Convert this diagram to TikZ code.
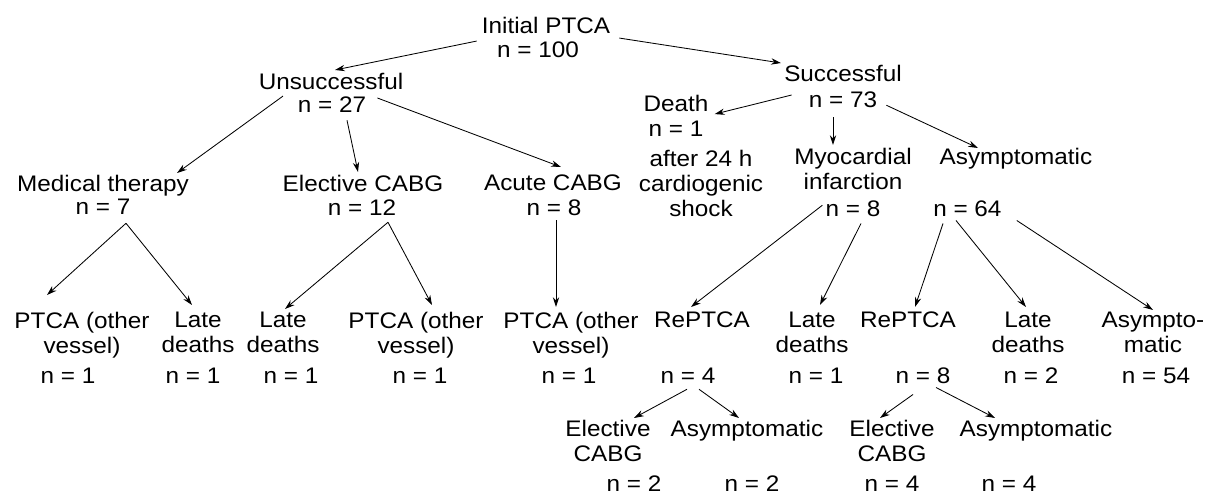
\documentclass[tikz,border=0pt]{standalone}
\usepackage{fontspec}
\setmainfont{Liberation Sans}[FakeStretch=1.08]
\usetikzlibrary{arrows.meta}

\begin{document}
\begin{tikzpicture}[
  x=0.025cm, y=-0.025cm,
  every node/.style={font=\fontsize{16}{17.8}\selectfont, inner sep=0pt},
  lbl/.style={anchor=north, align=center},
  cnt/.style={anchor=base},
  arrow/.style={-{Stealth[length=7pt,width=4.5pt]}, line width=0.6pt}
]
\useasboundingbox (0,0) rectangle (1213,497);

% top levels
\node[lbl] (init) at (546,17) {Initial PTCA};
\node[cnt] (initn) at (538,58) {n = 100};
\node[lbl] (unsucc) at (331,73) {Unsuccessful};
\node[cnt] (unsuccn) at (332,113) {n = 27};
\node[lbl] (succ) at (843,65) {Successful};
\node[cnt] (succn) at (843,108) {n = 73};

% second level
\node[lbl] (medth) at (103,175) {Medical therapy};
\node[cnt] (medthn) at (103,215) {n = 7};
\node[lbl] (elcabg) at (363,175) {Elective CABG};
\node[cnt] (elcabgn) at (362,216) {n = 12};
\node[lbl] (acabg) at (553,175) {Acute CABG};
\node[cnt] (acabgn) at (554,216) {n = 8};
\node[lbl] (death) at (676,95) {Death};
\node[cnt] (deathn) at (676,137) {n = 1};
\node[lbl] (deathnote) at (701,150) {after 24 h\\cardiogenic\\shock};
\node[lbl] (mi) at (853,148) {Myocardial\\infarction};
\node[cnt] (min) at (853,217) {n = 8};
\node[lbl] (asym) at (1016,148) {Asymptomatic};
\node[cnt, anchor=base west] (asymn) at (933,217) {n = 64};

% third level
\node[lbl] (ptcaA) at (82,312) {PTCA (other\\vessel)};
\node[cnt] (ptcaAn) at (68,384) {n = 1};
\node[lbl] (lateA) at (198,312) {Late\\deaths};
\node[cnt] (lateAn) at (193,384) {n = 1};
\node[lbl] (lateB) at (283,312) {Late\\deaths};
\node[cnt] (lateBn) at (291,384) {n = 1};
\node[lbl] (ptcaB) at (416,312) {PTCA (other\\vessel)};
\node[cnt] (ptcaBn) at (420,384) {n = 1};
\node[lbl] (ptcaC) at (571,312) {PTCA (other\\vessel)};
\node[cnt] (ptcaCn) at (569,384) {n = 1};
\node[lbl] (repA) at (702,312) {RePTCA};
\node[cnt] (repAn) at (688,384) {n = 4};
\node[lbl] (lateC) at (812,312) {Late\\deaths};
\node[cnt] (lateCn) at (816,384) {n = 1};
\node[lbl] (repB) at (908,312) {RePTCA};
\node[cnt] (repBn) at (923,384) {n = 8};
\node[lbl] (lateD) at (1028,312) {Late\\deaths};
\node[cnt] (lateDn) at (1031,384) {n = 2};
\node[lbl] (asymE) at (1153,312) {Asympto-\\matic};
\node[cnt] (asymEn) at (1156,384) {n = 54};

% fourth level
\node[lbl] (elA) at (608,420) {Elective\\CABG};
\node[cnt] (elAn) at (634,492) {n = 2};
\node[lbl] (asA) at (747,420) {Asymptomatic};
\node[cnt] (asAn) at (752,492) {n = 2};
\node[lbl] (elB) at (892,420) {Elective\\CABG};
\node[cnt] (elBn) at (892,492) {n = 4};
\node[lbl] (asB) at (1036,420) {Asymptomatic};
\node[cnt] (asBn) at (1009,492) {n = 4};

\draw[arrow] ([shift={(-5,7)}]init.south west) -- ([shift={(4,-3)}]unsucc.north);
\draw[arrow] ([shift={(9,4)}]init.south east) -- ([shift={(-3,-2)}]succ.north west);
\draw[arrow] ([shift={(-48,6)}]unsucc.south) -- ([shift={(-12,-2)}]medth.north east);
\draw[arrow] ([shift={(15,7)}]unsuccn.south) -- ([shift={(-5,-3)}]elcabg.north);
\draw[arrow] ([shift={(11,1)}]unsuccn.north east) -- ([shift={(8,-8)}]acabg.north);
\draw[arrow] ([shift={(-17,3)}]succn.north west) -- ([shift={(6,2)}]death.south east);
\draw[arrow] ([shift={(-10,9)}]succn.south) -- ([shift={(-20,-3)}]mi.north);
\draw[arrow] ([shift={(9,5)}]succn.east) -- ([shift={(-38,0)}]asym.north);

\draw[arrow] ([shift={(23,8)}]medthn.south) -- ([shift={(-35,-17)}]ptcaA.north);
\draw[arrow] ([shift={(23,8)}]medthn.south) -- ([shift={(-6,-7)}]lateA.north);
\draw[arrow] ([shift={(26,6)}]elcabgn.south) -- ([shift={(2,-3)}]lateB.north);
\draw[arrow] ([shift={(26,6)}]elcabgn.south) -- ([shift={(16,-7)}]ptcaB.north);
\draw[arrow] ([shift={(2,4)}]acabgn.south) -- ([shift={(-15,-5)}]ptcaC.north);
\draw[arrow] ([shift={(-3,-4)}]min.west) -- ([shift={(-11,-5)}]repA.north);
\draw[arrow] ([shift={(8,6)}]min.south) -- ([shift={(8,-7)}]lateC.north);
\draw[arrow] ([shift={(10,6)}]asymn.south west) -- ([shift={(7,-5)}]repB.north);
\draw[arrow] ([shift={(23,3)}]asymn.south west) -- ([shift={(-2,-5)}]lateD.north);
\draw[arrow] ([shift={(15,3)}]asymn.south east) -- ([shift={(0,-2)}]asymE.north);

\draw[arrow] ([shift={(-1,5)}]repAn.south) -- ([shift={(26,-2)}]elA.north);
\draw[arrow] ([shift={(11,5)}]repAn.south) -- ([shift={(-8,-2)}]asA.north);
\draw[arrow] ([shift={(-10,10)}]repBn.south) -- ([shift={(-12,-2)}]elB.north);
\draw[arrow] ([shift={(13,3)}]repBn.south) -- ([shift={(-41,-2)}]asB.north);
\end{tikzpicture}
\end{document}
